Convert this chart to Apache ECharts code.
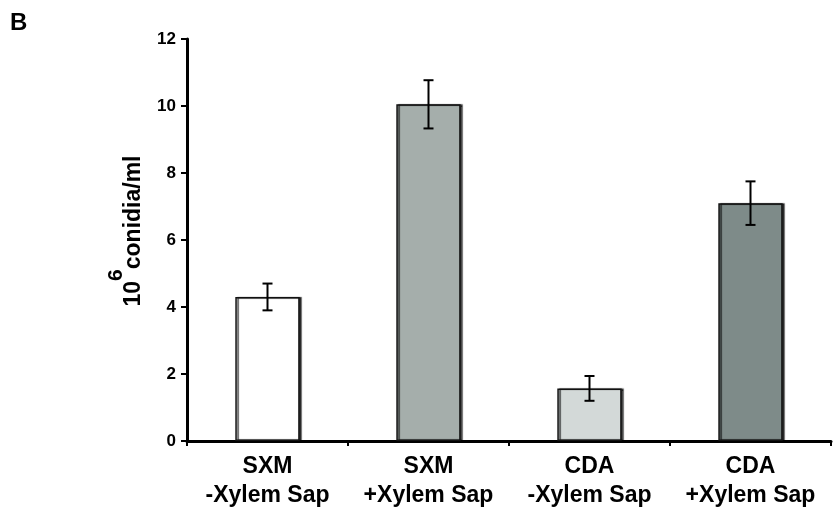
<!DOCTYPE html>
<html>
<head>
<meta charset="utf-8">
<script src="https://cdn.jsdelivr.net/npm/echarts@6/dist/echarts.min.js"></script>
<style>
  html, body { margin: 0; padding: 0; background: #fff; }
  #main { width: 835px; height: 513px; }
</style>
</head>
<body>
<div id="main"></div>
<script>
const categories = ['SXM\n-Xylem Sap', 'SXM\n+Xylem Sap', 'CDA\n-Xylem Sap', 'CDA\n+Xylem Sap'];
const means = [4.3, 10.05, 1.57, 7.1];
const errors = [0.4, 0.72, 0.37, 0.65];
const barColors = ['#ffffff', '#a5aeab', '#d3d9d8', '#7e8b89'];

const font = 'Liberation Sans, Arial, Helvetica, sans-serif';

let option = {
  animation: false,
  backgroundColor: '#fff',
  graphic: [{
    type: 'text',
    left: 10,
    top: 11,
    style: { text: 'B', font: 'bold 24px ' + font, fill: '#000' }
  }],
  grid: { left: 187, top: 39, right: 4, bottom: 72 },
  xAxis: {
    type: 'category',
    data: categories,
    axisLine: { lineStyle: { color: '#000', width: 3 } },
    axisTick: { show: true, length: 5, lineStyle: { color: '#000', width: 2 } },
    axisLabel: {
      interval: 0,
      color: '#000', fontFamily: font, fontWeight: 'bold', fontSize: 23,
      lineHeight: 29, margin: 11
    }
  },
  yAxis: {
    type: 'value',
    min: 0, max: 12, interval: 2,
    name: '{b|10}{s|6}{b|conidia/ml}',
    nameLocation: 'middle',
    nameGap: 42,
    nameTextStyle: {
      padding: [0, 0, 0, 18],
      rich: {
        b: { fontFamily: font, fontWeight: 'bold', fontSize: 23, color: '#000', verticalAlign: 'bottom' },
        s: { fontFamily: font, fontWeight: 'bold', fontSize: 21, color: '#000', verticalAlign: 'top', padding: [0, 0, 18, 0] }
      }
    },
    axisLine: { show: true, lineStyle: { color: '#000', width: 3 } },
    axisTick: { show: true, length: 6, lineStyle: { color: '#000', width: 2 } },
    axisLabel: { color: '#000', fontFamily: font, fontWeight: 'bold', fontSize: 17, margin: 11 },
    splitLine: { show: false }
  },
  series: [
    {
      type: 'bar',
      barWidth: '40%',
      data: means.map((v, i) => ({
        value: v,
        itemStyle: { color: barColors[i] }
      })),
      itemStyle: {
        borderColor: '#111',
        borderWidth: 1.5,
        shadowColor: 'rgba(0,0,0,0.75)',
        shadowOffsetX: 2,
        shadowOffsetY: 0,
        shadowBlur: 1
      }
    },
    {
      type: 'custom',
      data: means.map((v, i) => [i, v - errors[i], v + errors[i]]),
      renderItem: function (params, api) {
        const lo = api.coord([api.value(0), api.value(1)]);
        const hi = api.coord([api.value(0), api.value(2)]);
        const w = 5;
        const st = { stroke: '#000', lineWidth: 2 };
        return {
          type: 'group',
          children: [
            { type: 'line', shape: { x1: hi[0], y1: hi[1], x2: lo[0], y2: lo[1] }, style: st },
            { type: 'line', shape: { x1: hi[0] - w, y1: hi[1], x2: hi[0] + w, y2: hi[1] }, style: st },
            { type: 'line', shape: { x1: lo[0] - w, y1: lo[1], x2: lo[0] + w, y2: lo[1] }, style: st }
          ]
        };
      },
      z: 10
    }
  ]
};

let myChart = echarts.init(document.getElementById('main'));
myChart.setOption(option);
</script>
</body>
</html>
